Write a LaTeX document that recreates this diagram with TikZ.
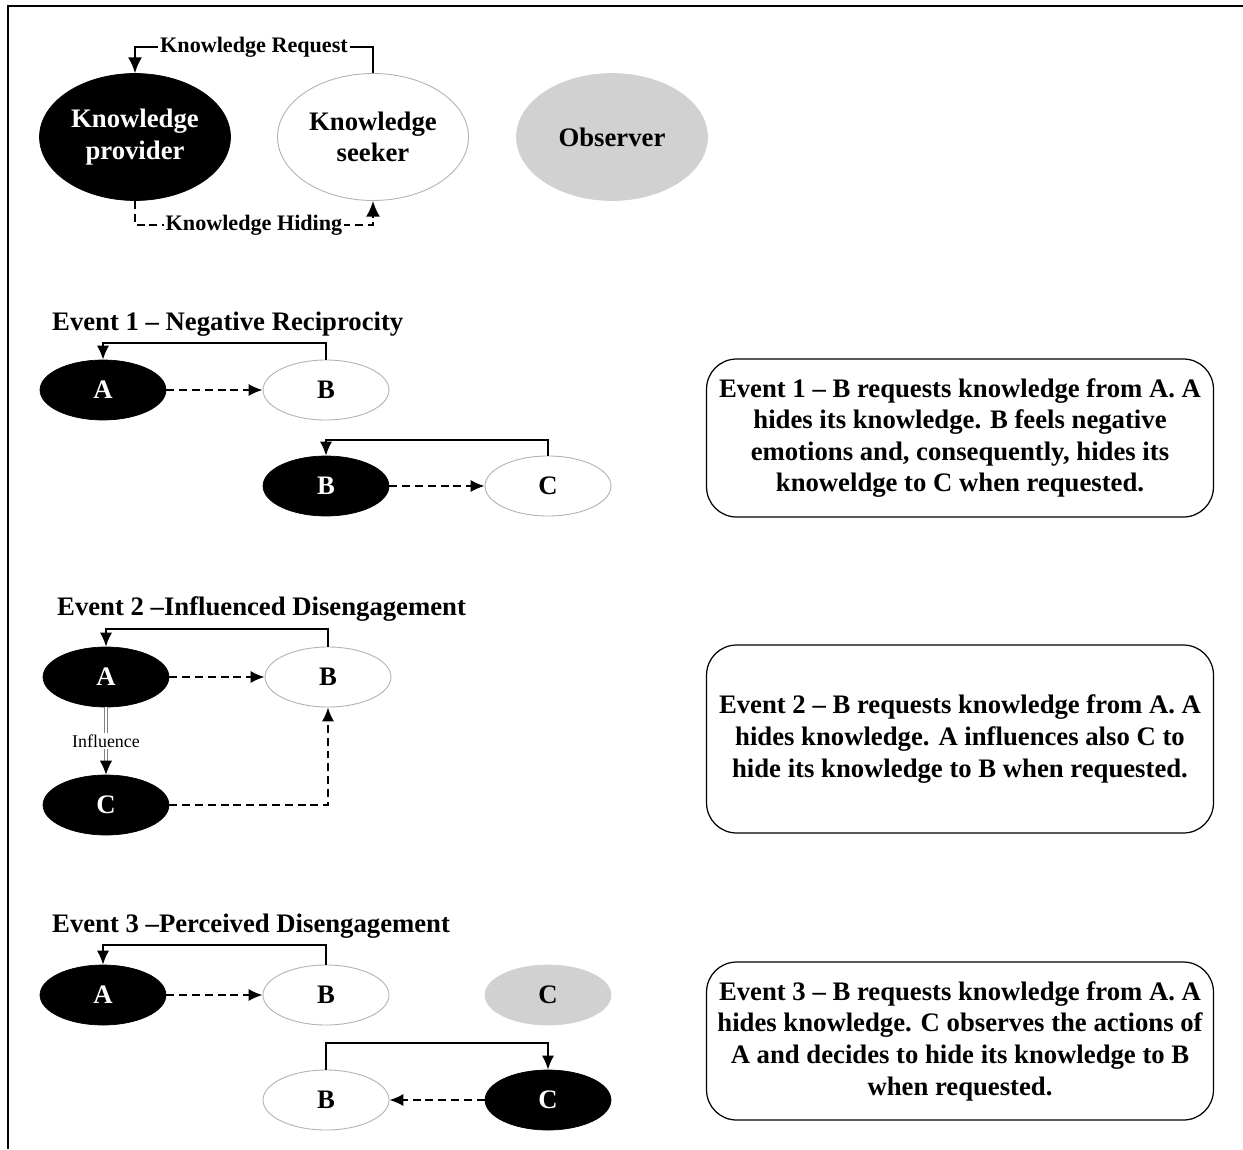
\documentclass[tikz,border=0pt]{standalone}
\usepackage{fontspec}
\setmainfont{Liberation Serif}
\usetikzlibrary{arrows.meta, shapes.geometric}

\begin{document}
\begin{tikzpicture}[x=0.02cm, y=-0.02cm,
    every node/.style={font=\bfseries\fontsize{15.2}{18}\selectfont},
    actor/.style={ellipse, align=center, inner sep=0pt, minimum width=2.52cm, minimum height=1.2cm},
    provider/.style={actor, fill=black, draw=black, text=white},
    seeker/.style={actor, fill=white, draw=black!30, line width=0.5pt},
    observer/.style={actor, fill=black!18, draw=black!18},
    big/.style={minimum width=3.82cm, minimum height=2.54cm},
    request/.style={line width=1.1pt, -{Latex[length=8pt,width=7pt]}},
    hiding/.style={line width=1.1pt, dash pattern=on 4.5pt off 2.8pt, -{Latex[length=8pt,width=7pt]}},
    influence/.style={draw=gray, line width=0.5pt, double=white, double distance=1.2pt, -{Latex[length=8pt,width=7pt,color=black]}},
    tag/.style={fill=white, inner sep=1pt, font=\bfseries\fontsize{12.6}{15}\selectfont},
    eventbox/.style={draw, rounded corners=0.6cm, line width=0.7pt, minimum width=10.14cm, align=center},
    heading/.style={anchor=base west}
]
\useasboundingbox (0,0) rectangle (1243,1149);
\draw[line width=1.7pt] (1243,6) -- (8,6) -- (8,1149);

% legend
\node[provider, big] (prov) at (135,137) {Knowledge\\provider};
\node[seeker, big] (seek) at (373,137) {Knowledge\\seeker};
\node[observer, big] (obs) at (612,137) {Observer};
\draw[request, -{Latex[length=9pt,width=8pt]}] (seek.north) -- ++(0,-26) -| node[tag, pos=0.25] {Knowledge Request} (prov.north);
\draw[hiding, -{Latex[length=9pt,width=8pt]}] (prov.south) -- ++(0,24) -| node[tag, pos=0.25] {Knowledge Hiding} (seek.south);

% event 1
\node[heading] (ev1) at (46,330) {Event 1 – Negative Reciprocity};
\node[provider] (a1) at (103,390) {A};
\node[seeker] (b1) at (326,390) {B};
\node[provider] (b1x) at (326,486) {B};
\node[seeker] (c1) at (548,486) {C};
\draw[request] (b1.north) -- ++(0,-17) -| (a1.north);
\draw[hiding] (a1) -- (b1);
\draw[request] (c1.north) -- ++(0,-16) -| (b1x.north);
\draw[hiding] (b1x) -- (c1);
\node[eventbox, minimum height=3.16cm] (box1) at (960,438) {Event 1 – B requests knowledge from A. A\\hides its knowledge. B feels negative\\emotions and, consequently, hides its\\knoweldge to C when requested.};

% event 2
\node[heading] (ev2) at (51,615) {Event 2 –Influenced Disengagement};
\node[provider] (a2) at (106,677) {A};
\node[seeker] (b2) at (328,677) {B};
\node[provider] (c2) at (106,805) {C};
\draw[request] (b2.north) -- ++(0,-18) -| (a2.north);
\draw[hiding] (a2) -- (b2);
\draw[influence] (a2) -- node[fill=white, inner sep=1pt, font=\fontsize{10.2}{12}\selectfont] {Influence} (c2);
\draw[hiding] (c2) -| (b2);
\node[eventbox, minimum height=3.76cm] (box2) at (960,739) {Event 2 – B requests knowledge from A. A\\hides knowledge. A influences also C to\\hide its knowledge to B when requested.};

% event 3
\node[heading] (ev3) at (46,932) {Event 3 –Perceived Disengagement};
\node[provider] (a3) at (103,995) {A};
\node[seeker] (b3) at (326,995) {B};
\node[observer] (c3) at (548,995) {C};
\node[seeker] (b3x) at (326,1100) {B};
\node[provider] (c3x) at (548,1100) {C};
\draw[request] (b3.north) -- ++(0,-20) -| (a3.north);
\draw[hiding] (a3) -- (b3);
\draw[request] (b3x.north) -- ++(0,-27) -| (c3x.north);
\draw[hiding] (c3x) -- (b3x);
\node[eventbox, minimum height=3.16cm] (box3) at (960,1041) {Event 3 – B requests knowledge from A. A\\hides knowledge. C observes the actions of\\A and decides to hide its knowledge to B\\when requested.};
\end{tikzpicture}
\end{document}
